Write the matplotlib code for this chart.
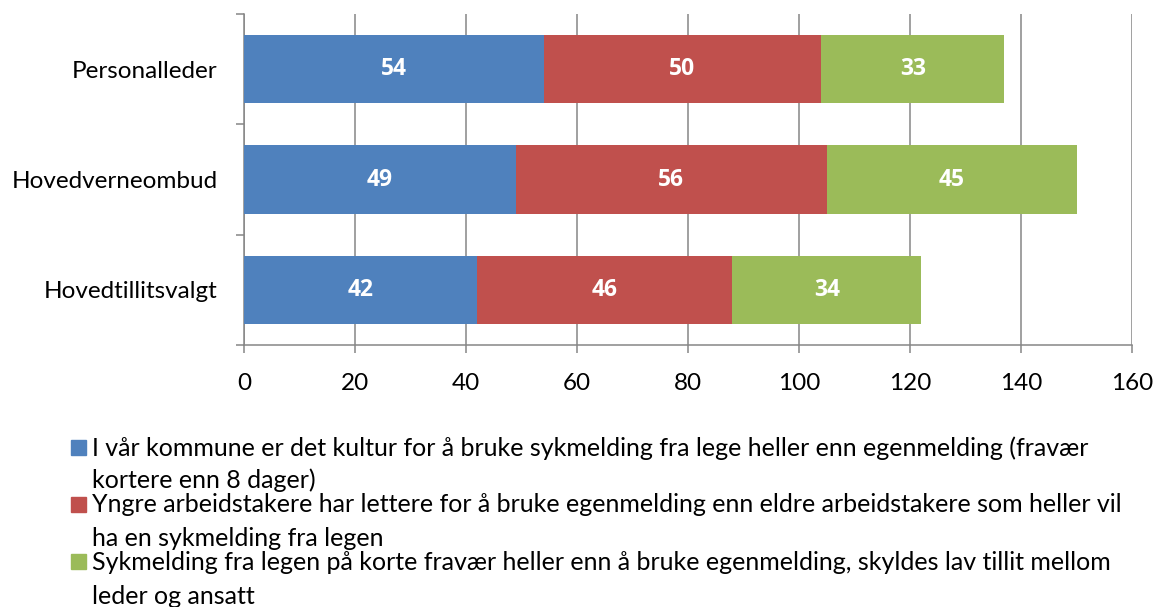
import numpy as np
import matplotlib.pyplot as plt
from matplotlib.patches import Rectangle

plt.rcParams['font.family'] = ['Lato', 'DejaVu Sans']

# Data
categories = ["Personalleder", "Hovedverneombud", "Hovedtillitsvalgt"]
kultur = [54, 49, 42]
yngre = [50, 56, 46]
tillit = [33, 45, 34]

series_names = [
    "I vår kommune er det kultur for å bruke sykmelding fra lege heller enn egenmelding (fravær\nkortere enn 8 dager)",
    "Yngre arbeidstakere har lettere for å bruke egenmelding enn eldre arbeidstakere som heller vil\nha en sykmelding fra legen",
    "Sykmelding fra legen på korte fravær heller enn å bruke egenmelding, skyldes lav tillit mellom\nleder og ansatt",
]
colors = ["#4F81BD", "#C0504D", "#9BBB59"]
xticks = [0, 20, 40, 60, 80, 100, 120, 140, 160]

W, H = 1159, 607
fig = plt.figure(figsize=(W / 100, H / 100), dpi=100)
ax = fig.add_axes([244 / W, 1 - 345 / H, (1132 - 244) / W, (345 - 14) / H])

grid_col = "#868686"
y = np.arange(len(categories))
left = np.zeros(len(categories))
for vals, col in zip([kultur, yngre, tillit], colors):
    vals = np.array(vals)
    ax.barh(y, vals, left=left, height=0.62, color=col, zorder=3)
    for yi, l, v in zip(y, left, vals):
        ax.text(l + v / 2, yi, str(v), ha="center", va="center",
                color="white", fontsize=16.5, fontweight="bold",
                family=["Open Sans", "DejaVu Sans"], zorder=4)
    left += vals

ax.set_xlim(0, 160)
ax.set_ylim(2.5, -0.5)
ax.set_xticks(xticks)
ax.set_xticklabels([str(t) for t in xticks], fontsize=17.5)
ax.set_yticks(y)
ax.set_yticklabels(categories, fontsize=17.5)
ax.set_yticks([-0.5, 0.5, 1.5, 2.5], minor=True)
ax.tick_params(axis="y", which="major", length=0, pad=19)
ax.tick_params(axis="y", which="minor", length=6, width=1.1, color=grid_col)
ax.tick_params(axis="x", length=6, width=1.1, color=grid_col, pad=14)
ax.xaxis.grid(True, color=grid_col, linewidth=1.1, zorder=0)
ax.set_axisbelow(True)
for s in ["top", "right"]:
    ax.spines[s].set_visible(False)
for s in ["left", "bottom"]:
    ax.spines[s].set_color(grid_col)
    ax.spines[s].set_linewidth(1.1)

# Legend drawn manually to mimic the wrapped layout
line_y = [(448, 480), (505, 538), (562, 596)]
for name, col, (y1, y2) in zip(series_names, colors, line_y):
    first, second = name.split("\n")
    fig.patches.append(Rectangle((71 / W, 1 - (y1 + 7) / H), 15 / W, 15 / H,
                                 transform=fig.transFigure, color=col, figure=fig))
    fig.text(92 / W, 1 - y1 / H, first, ha="left", va="center", fontsize=18)
    fig.text(92 / W, 1 - y2 / H, second, ha="left", va="center", fontsize=18)

fig.savefig("out.png", dpi=100)
